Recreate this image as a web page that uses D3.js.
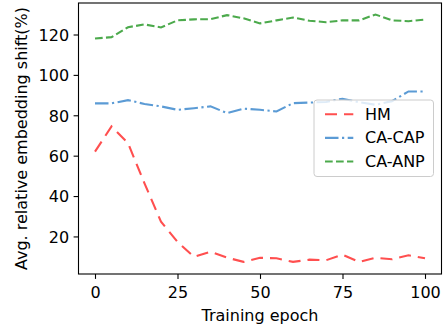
<!DOCTYPE html>
<html><head><meta charset="utf-8">
<script src="https://cdn.jsdelivr.net/npm/d3@7"></script>
<style>body{margin:0;background:#fff}svg{display:block;font-family:"DejaVu Sans",sans-serif}</style>
</head><body><svg id="c" width="445" height="328"></svg>
<script>
const epochs = [0,5,10,15,20,25,30,35,40,45,50,55,60,65,70,75,80,85,90,95,100];
const hmValues = [62.0,74.5,66.2,46.3,27.3,17.3,9.9,12.4,9.5,7.4,9.4,9.2,7.4,8.5,8.2,11.0,7.4,9.4,8.7,10.7,9.2];
const capValues = [85.9,85.9,87.5,85.6,84.4,82.7,83.5,84.4,81.1,83.3,82.7,81.9,86.0,86.3,86.6,88.2,86.5,85.2,87.0,91.8,91.8];
const anpValues = [118.0,118.7,123.6,125.0,123.5,127.0,127.5,127.6,129.6,128.0,125.5,127.0,128.4,126.8,126.1,127.0,127.0,129.9,127.0,126.6,127.4];
const seriesNames = ["HM","CA-CAP","CA-ANP"];
const seriesColors = ["#ff4f4f","#5b9bd5","#4caa4c"];
const seriesDash = ["12,7","13.5,3.5,2.2,3.5","7.7,3.3"];
const xTicks = [0,25,50,75,100];
const yTicks = [20,40,60,80,100,120];
const xLabel = "Training epoch";
const yLabel = "Avg. relative embedding shift(%)";

const FS = 16;
const svg = d3.select("#c");
const L = 78.5, R = 441.5, T = 3, B = 274;
const x = d3.scaleLinear().domain([-5,105]).range([L,R]);
const y = d3.scaleLinear().domain([1.4,135.6]).range([B,T]);

const series = [hmValues, capValues, anpValues];
const line = d3.line().x((d,i)=>x(epochs[i])).y(d=>y(d));
series.forEach((vals,k)=>{
  svg.append("path").datum(vals).attr("d",line).attr("fill","none")
    .attr("stroke",seriesColors[k]).attr("stroke-width",2.1)
    .attr("stroke-dasharray",seriesDash[k]);
});

// axes
const xa = svg.append("g").attr("transform",`translate(0,${B})`)
  .call(d3.axisBottom(x).tickValues(xTicks).tickSize(4.9).tickPadding(4.5).tickFormat(d3.format("d")));
const ya = svg.append("g").attr("transform",`translate(${L},0)`)
  .call(d3.axisLeft(y).tickValues(yTicks).tickSize(4.9).tickPadding(4.5).tickFormat(d3.format("d")));
[xa,ya].forEach(g=>{
  g.select(".domain").remove();
  g.selectAll("line").attr("stroke","#000").attr("stroke-width",1.1);
  g.selectAll("text").attr("font-size",FS).attr("fill","#000").attr("font-family","DejaVu Sans");
});
xa.selectAll("text").attr("y",null).attr("dy",null).attr("transform","translate(0,24.3)");
ya.selectAll("text").attr("dy","0.36em");
svg.append("rect").attr("x",L).attr("y",T).attr("width",R-L).attr("height",B-T)
  .attr("fill","none").attr("stroke","#000").attr("stroke-width",1.1);

svg.append("text").attr("x",(L+R)/2).attr("y",320.5).attr("text-anchor","middle")
  .attr("font-size",FS).text(xLabel);
svg.append("text").attr("transform",`translate(26.8,${(T+B)/2}) rotate(-90)`)
  .attr("text-anchor","middle").attr("font-size",FS).text(yLabel);

// legend
const lg = svg.append("g");
lg.append("rect").attr("x",314).attr("y",100).attr("width",119.5).attr("height",76.5)
  .attr("rx",3).attr("fill","#fff").attr("fill-opacity",0.8).attr("stroke","#cccccc").attr("stroke-width",1);
seriesNames.forEach((n,k)=>{
  const cy = 114.3 + k*23.6;
  lg.append("line").attr("x1",325).attr("x2",353.3).attr("y1",cy).attr("y2",cy)
    .attr("stroke",seriesColors[k]).attr("stroke-width",2.1).attr("stroke-dasharray",seriesDash[k]);
  lg.append("text").attr("x",365).attr("y",cy+5.3).attr("font-size",FS).text(n);
});
</script></body></html>
